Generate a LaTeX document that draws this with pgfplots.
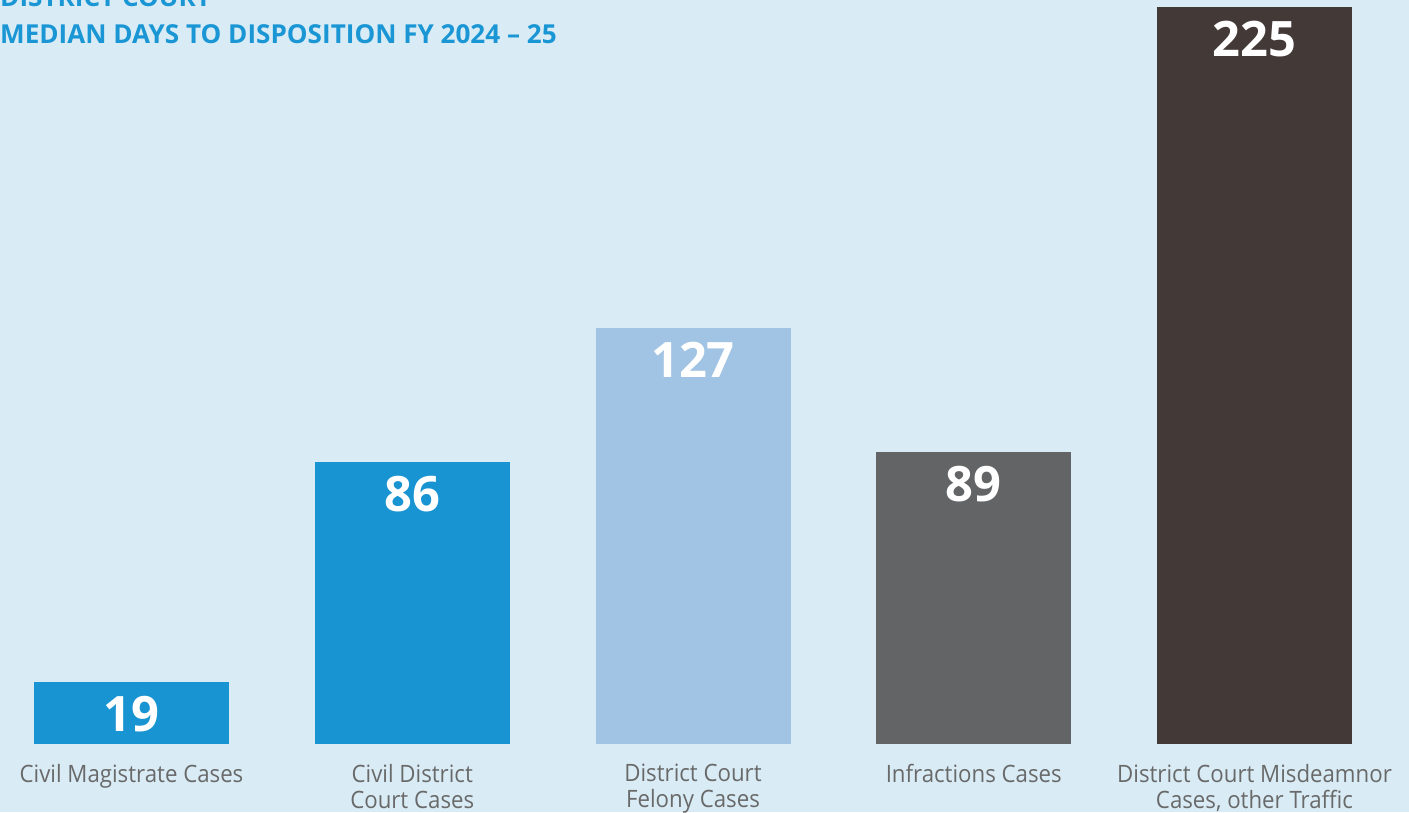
\documentclass[border=0pt]{standalone}
\usepackage{pgfplots}
\pgfplotsset{compat=1.18}
\usepackage{fontspec}
\setmainfont{Open Sans}
\newfontfamily\labfont[FakeStretch=0.93]{Open Sans}

\definecolor{bg}{RGB}{217,236,246}
\definecolor{cblue}{RGB}{24,148,210}
\definecolor{clight}{RGB}{161,196,228}
\definecolor{cgrey}{RGB}{99,100,102}
\definecolor{cdark}{RGB}{67,57,55}
\definecolor{ctitle}{RGB}{26,150,213}
\definecolor{clabel}{RGB}{105,105,105}

\begin{document}
\begin{tikzpicture}[x=1bp, y=1bp]
\fill[bg] (0,0) rectangle (1409,812);
\begin{axis}[
  at={(0,0)}, anchor=south west,
  scale only axis, width=1409bp, height=812bp,
  xmin=-0.4684, xmax=4.5503, ymin=-20.76, ymax=227.14,
  axis line style={draw=none}, tick style={draw=none},
  ytick=\empty, xtick={0,1,2,3,4},
  xticklabels={Civil Magistrate Cases, {Civil District\\Court Cases},
    {District Court\\Felony Cases}, Infractions Cases,
    {District Court Misdeamnor\\Cases, other Traffic}},
  xticklabel style={align=center, anchor=north, yshift=52bp, inner sep=0pt,
    font=\labfont\fontsize{24}{26}\selectfont, text=clabel},
  ybar, bar width=195bp,
  every axis plot/.append style={draw=none, bar shift=0pt},
  nodes near coords={\bfseries\fontsize{49}{50}\selectfont
    \pgfmathprintnumber[assume math mode=true]{\pgfplotspointmeta}},
  nodes near coords style={anchor=north, yshift=-14bp, inner sep=0pt,
    text=white},
]
  \addplot[fill=cblue] coordinates {(0,19)};
  \addplot[fill=cblue] coordinates {(1,86)};
  \addplot[fill=clight] coordinates {(2,127)};
  \addplot[fill=cgrey] coordinates {(3,89)};
  \addplot[fill=cdark] coordinates {(4,225)};
\end{axis}
\node[anchor=base west, inner sep=0pt, text=ctitle,
  font=\bfseries\fontsize{26.2}{28}\selectfont] at (0,805) {DISTRICT COURT};
\node[anchor=base west, inner sep=0pt, text=ctitle,
  font=\bfseries\fontsize{26.2}{28}\selectfont] at (0,768)
  {MEDIAN DAYS TO DISPOSITION FY 2024 – 25};
\pgfresetboundingbox
\useasboundingbox (0,0) rectangle (1409,812);
\end{tikzpicture}
\end{document}
